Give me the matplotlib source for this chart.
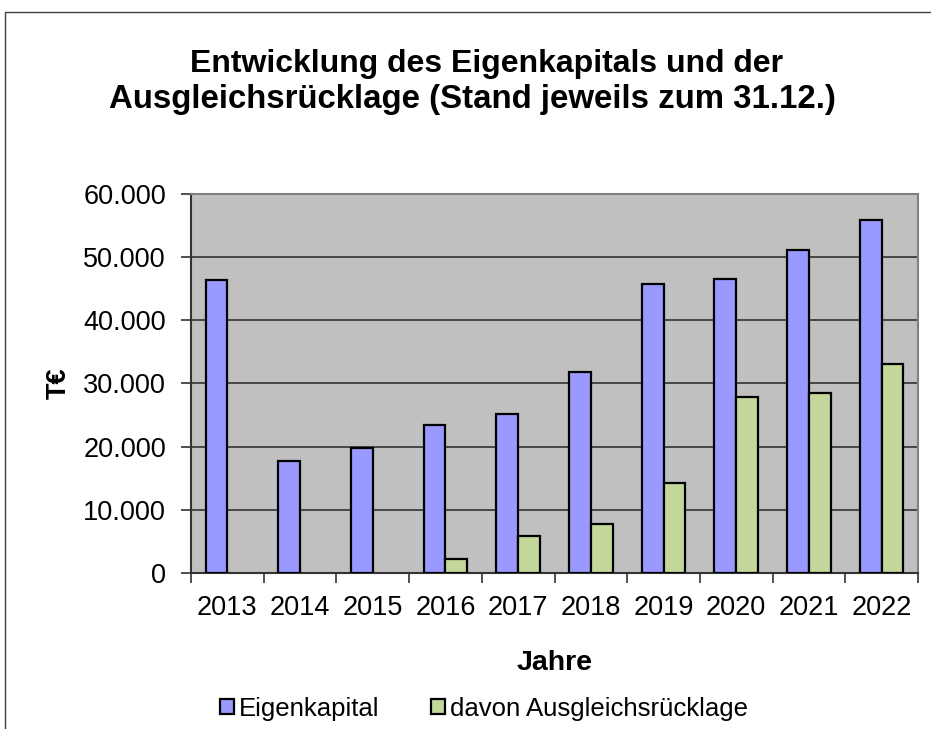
import matplotlib.pyplot as plt
from matplotlib.patches import Rectangle
from matplotlib.ticker import FuncFormatter
import numpy as np

plt.rcParams['font.family'] = ['Liberation Sans', 'DejaVu Sans']

# Data (T€, Stand jeweils zum 31.12.) - no Ausgleichsrücklage shown 2013-2015
years = ["2013", "2014", "2015", "2016", "2017", "2018", "2019", "2020", "2021", "2022"]
eigenkapital = [46400, 17800, 19800, 23400, 25200, 31800, 45700, 46500, 51100, 55900]
ausgleichsruecklage = [np.nan, np.nan, np.nan, 2200, 5900, 7700, 14300, 27900, 28500, 33100]

fig = plt.figure(figsize=(9.31, 7.29), dpi=100)
ax = fig.add_axes([0.2052, 0.214, 0.7808, 0.520])

x = np.arange(len(years))
w = 0.30
ax.bar(x - w / 2, eigenkapital, width=w, color="#9999FF", edgecolor="black",
       linewidth=1.6, label="Eigenkapital", zorder=3)
ax.bar(x + w / 2, ausgleichsruecklage, width=w, color="#C4D79B", edgecolor="black",
       linewidth=1.6, label="davon Ausgleichsrücklage", zorder=3)

ax.set_facecolor("#C0C0C0")
ax.set_xlim(-0.5, len(years) - 0.5)
ax.set_ylim(0, 60000)
ax.set_yticks(np.arange(0, 60001, 10000))
ax.yaxis.set_major_formatter(FuncFormatter(lambda v, p: f"{int(v):,}".replace(",", ".")))
ax.grid(axis="y", color="#333333", linewidth=1.2, zorder=1)

# ticks between categories, labels at centers
ax.set_xticks(np.arange(-0.5, len(years)), labels=[""] * (len(years) + 1))
ax.set_xticks(x, labels=years, minor=True)
ax.tick_params(axis="x", which="major", length=7, width=1.2, color="#333333")
ax.tick_params(axis="x", which="minor", length=0, labelsize=19.5, pad=15.5)
ax.tick_params(axis="y", length=7, width=1.2, color="#333333", labelsize=19.5, pad=11)

for s in ["top", "right"]:
    ax.spines[s].set_color("#808080")
    ax.spines[s].set_linewidth(1.5)
for s in ["left", "bottom"]:
    ax.spines[s].set_color("#333333")
    ax.spines[s].set_linewidth(1.5)

ax.set_ylabel("T€", fontsize=19.5, fontweight="bold", labelpad=8)
ax.set_xlabel("Jahre", fontsize=20.5, fontweight="bold", labelpad=21)

fig.text(487 / 931, 1 - 72 / 729, "Entwicklung des Eigenkapitals und der",
         ha="center", va="baseline", fontsize=23, fontweight="bold")
fig.text(472 / 931, 1 - 108 / 729, "Ausgleichsrücklage (Stand jeweils zum 31.12.)",
         ha="center", va="baseline", fontsize=23.8, fontweight="bold")

fig.legend(loc="center", bbox_to_anchor=(0.52, 0.028), ncol=2, frameon=False,
           fontsize=18.5, handlelength=0.55, handleheight=0.55, handletextpad=0.2,
           columnspacing=2.0)

# outer chart frame (runs off the right and bottom edge)
fig.patches.append(Rectangle((5 / 931, -0.1), 1.2, 1 - 12 / 729 + 0.1,
                             transform=fig.transFigure, fill=False,
                             edgecolor="#404040", linewidth=1.0))

plt.savefig("out.png", dpi=100)
